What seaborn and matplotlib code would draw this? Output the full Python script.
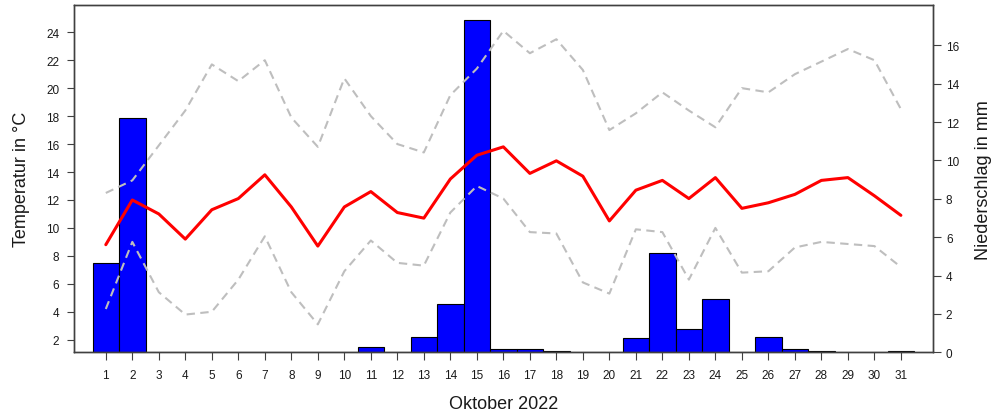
import matplotlib
matplotlib.use("Agg")
import matplotlib.pyplot as plt
import pandas as pd
import seaborn as sns

# Oktober 2022, daily values
days = [1, 2, 3, 4, 5, 6, 7, 8, 9, 10, 11, 12, 13, 14, 15, 16,
        17, 18, 19, 20, 21, 22, 23, 24, 25, 26, 27, 28, 29, 30, 31]
t_mean = [8.8, 12.0, 11.0, 9.2, 11.3, 12.1, 13.8, 11.5, 8.7, 11.5, 12.6,
          11.1, 10.7, 13.5, 15.2, 15.8, 13.9, 14.8, 13.7, 10.5, 12.7, 13.4,
          12.1, 13.6, 11.4, 11.8, 12.4, 13.4, 13.6, 12.3, 10.9]
t_max = [12.5, 13.4, 15.9, 18.4, 21.7, 20.5, 22.0, 17.9, 15.8, 20.7, 18.0,
         16.0, 15.4, 19.5, 21.4, 24.1, 22.5, 23.5, 21.3, 17.0, 18.2, 19.7,
         18.4, 17.2, 20.0, 19.7, 21.0, 21.9, 22.8, 22.0, 18.5]
t_min = [4.2, 9.0, 5.4, 3.8, 4.0, 6.3, 9.4, 5.4, 3.1, 6.9, 9.1, 7.5, 7.3,
         11.1, 13.0, 12.1, 9.7, 9.6, 6.1, 5.3, 9.9, 9.7, 6.3, 10.0, 6.8,
         6.9, 8.6, 9.0, 8.85, 8.7, 7.2]
precip = [4.65, 12.2, 0, 0, 0, 0, 0, 0, 0, 0, 0.3, 0, 0.8, 2.5, 17.3, 0.17,
          0.17, 0.08, 0, 0, 0.75, 5.2, 1.2, 2.8, 0, 0.8, 0.17, 0.08, 0, 0,
          0.08]

temp_ticks = [2, 4, 6, 8, 10, 12, 14, 16, 18, 20, 22, 24]
precip_ticks = [0, 2, 4, 6, 8, 10, 12, 14, 16]

df = pd.DataFrame({"Tag": days, "Tmittel": t_mean, "Tmax": t_max,
                   "Tmin": t_min, "Niederschlag": precip})

sns.set_style("ticks")
plt.rcParams["font.family"] = ["Liberation Sans", "DejaVu Sans"]

fig = plt.figure(figsize=(10.02, 4.14), dpi=100)
ax = fig.add_axes([0.07385, 0.14662, 0.85699, 0.83889])
ax_r = ax.twinx()

# precipitation bars (right axis), below the temperature lines
sns.barplot(data=df, x="Tag", y="Niederschlag", native_scale=True, width=1,
            color="#0000FF", saturation=1, edgecolor="black", linewidth=0.8,
            errorbar=None, ax=ax_r)

dash = (0, (4, 2.6))
sns.lineplot(data=df, x="Tag", y="Tmax", color="#BEBEBE", linewidth=1.5,
             linestyle=dash, ax=ax)
sns.lineplot(data=df, x="Tag", y="Tmin", color="#BEBEBE", linewidth=1.5,
             linestyle=dash, ax=ax)
sns.lineplot(data=df, x="Tag", y="Tmittel", color="#FF0000", linewidth=2.2,
             ax=ax)

ax.set_zorder(ax_r.get_zorder() + 1)
ax.patch.set_visible(False)

ax.set_xlim(-0.2, 32.2)
ax.set_ylim(1.1, 25.95)
ax_r.set_ylim(0, 18.1)

ax.set_xticks(days)
ax.set_xticklabels([str(d) for d in days])
ax.set_yticks(temp_ticks)
ax.set_yticklabels([str(t) for t in temp_ticks])
ax_r.set_yticks(precip_ticks)
ax_r.set_yticklabels([str(t) for t in precip_ticks])

ax.tick_params(axis="x", labelsize=8.5, length=5.5, width=0.8, pad=6.5,
               color="#404040", labelcolor="#1a1a1a")
ax.tick_params(axis="y", labelsize=8.5, length=5, width=0.8, pad=5.5,
               color="#404040", labelcolor="#1a1a1a")
ax_r.tick_params(axis="y", labelsize=8.5, length=5.5, width=0.8, pad=4,
                 color="#404040", labelcolor="#1a1a1a")

for a in (ax, ax_r):
    for sp in a.spines.values():
        sp.set_color("#404040")
        sp.set_linewidth(1.0)

ax.set_xlabel("Oktober 2022", fontsize=13, color="#1a1a1a")
ax.set_ylabel("Temperatur in °C", fontsize=13, color="#1a1a1a")
ax_r.set_ylabel("Niederschlag in mm", fontsize=13, color="#1a1a1a")
ax.xaxis.set_label_coords(0.5, -0.123)
ax.yaxis.set_label_coords(-0.0518, 0.5)
ax_r.yaxis.set_label_coords(1.049, 0.5)

fig.savefig("out.png", dpi=100)
